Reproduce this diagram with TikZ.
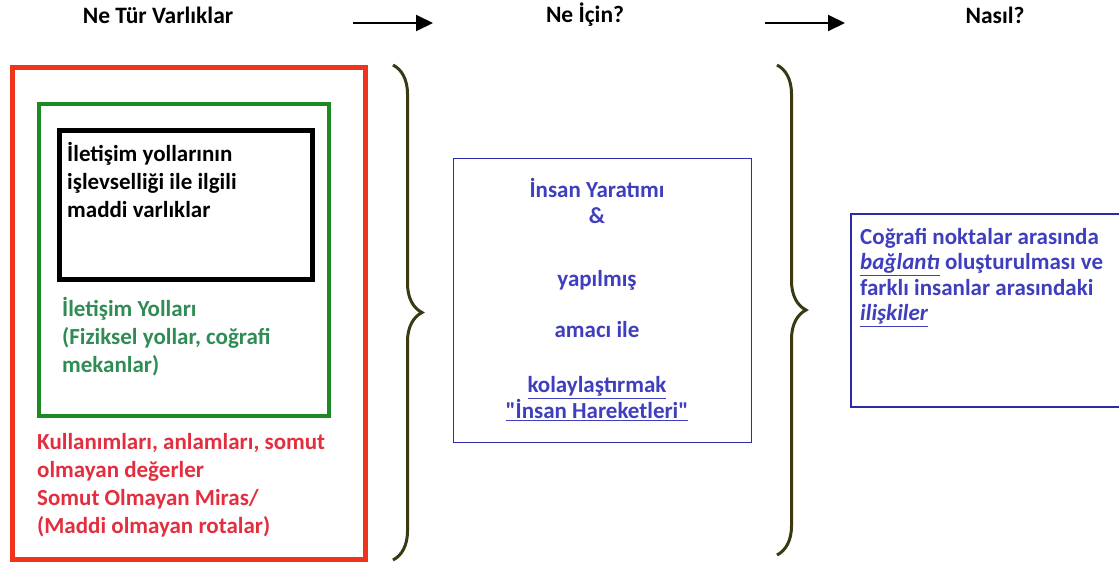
\documentclass[tikz,border=0pt]{standalone}
\usepackage{fontspec}
\setmainfont{Carlito}[Ligatures=TeXOff]
\usepackage{tikz}
\usetikzlibrary{arrows.meta}
\usetikzlibrary{decorations.pathreplacing}
\usetikzlibrary{positioning}

\definecolor{kirmizi}{RGB}{240,52,28}
\definecolor{kirmiziyazi}{RGB}{226,46,62}
\definecolor{yesil}{RGB}{30,138,36}
\definecolor{yesilyazi}{RGB}{46,140,84}
\definecolor{mavi}{RGB}{44,44,168}
\definecolor{maviyazi}{RGB}{62,62,190}
\definecolor{zeytin}{RGB}{58,58,18}

\begin{document}
\begin{tikzpicture}[x=1pt, y=-1pt, >={Triangle[length=17pt,width=16pt]},
    baslik/.style={font=\fontsize{23.5}{27}\selectfont\bfseries},
    kutu/.style={draw, inner sep=0pt},
    yazi/.style={inner sep=0pt, align=left, anchor=north west, font=\fontsize{23}{28}\selectfont\bfseries},
    mavis/.style={inner sep=0pt, text=maviyazi, font=\fontsize{23}{26}\selectfont\bfseries},
    parantez/.style={draw=zeytin, line width=3pt, decorate, decoration={brace, amplitude=29pt}}]
    \useasboundingbox (0,0) rectangle (1119,566);
    \node[baslik] (neTur) at (158,15) {Ne Tür Varlıklar};
    \node[baslik] (neIcin) at (585,15) {Ne İçin?};
    \node[baslik] (nasil) at (995,15) {Nasıl?};
    \coordinate (ok1a) at (353,23);
    \coordinate (ok1b) at (433,23);
    \coordinate (ok2a) at (765,23);
    \coordinate (ok2b) at (845,23);
    \draw[->, line width=2pt] (ok1a) -- (ok1b);
    \draw[->, line width=2pt] (ok2a) -- (ok2b);
    \node[kutu, draw=kirmizi, line width=5pt, minimum width=353pt, minimum height=492pt] (miras) at (189,313.5) {};
    \node[kutu, draw=yesil, line width=4pt, minimum width=290pt, minimum height=312pt] (yollar) at (184,260) {};
    \node[kutu, draw=black, line width=5pt, minimum width=253pt, minimum height=149pt] (varlik) at (186,205) {};
    \node[yazi] (varlikYazi) at (67,142) {İletişim yollarının\\işlevselliği ile ilgili\\maddi varlıklar};
    \node[yazi, text=yesilyazi] (yollarYazi) at (62,297) {İletişim Yolları\\(Fiziksel yollar, coğrafi\\mekanlar)};
    \node[yazi, text=kirmiziyazi] (mirasYazi) at (37,433) {Kullanımları, anlamları, somut\\olmayan değerler\\Somut Olmayan Miras/\\(Maddi olmayan rotalar)};
    \draw[parantez] (393,65) -- (393,560);
    \node[kutu, draw=mavi, line width=1.5pt, minimum width=298pt, minimum height=284pt] (amac) at (602.5,300.5) {};
    \node[mavis, align=center, anchor=north] (amacYazi) at (597,178) {İnsan Yaratımı\\\&\\[37pt]yapılmış\\[25pt]amacı ile\\[29pt]\underline{kolaylaştırmak}\\\underline{"İnsan Hareketleri"}};
    \draw[parantez] (777,65) -- (777,555);
    \node[kutu, draw=mavi, line width=1.5pt, minimum width=271pt, minimum height=193pt] (baglanti) at (986.5,310.5) {};
    \node[mavis, align=left, anchor=north west, font=\fontsize{23}{25.5}\selectfont\bfseries] (baglantiYazi) at (860,228) {Coğrafi noktalar arasında\\\underline{\itshape bağlantı} oluşturulması ve\\farklı insanlar arasındaki\\\underline{\itshape ilişkiler}};
\end{tikzpicture}
\end{document}
